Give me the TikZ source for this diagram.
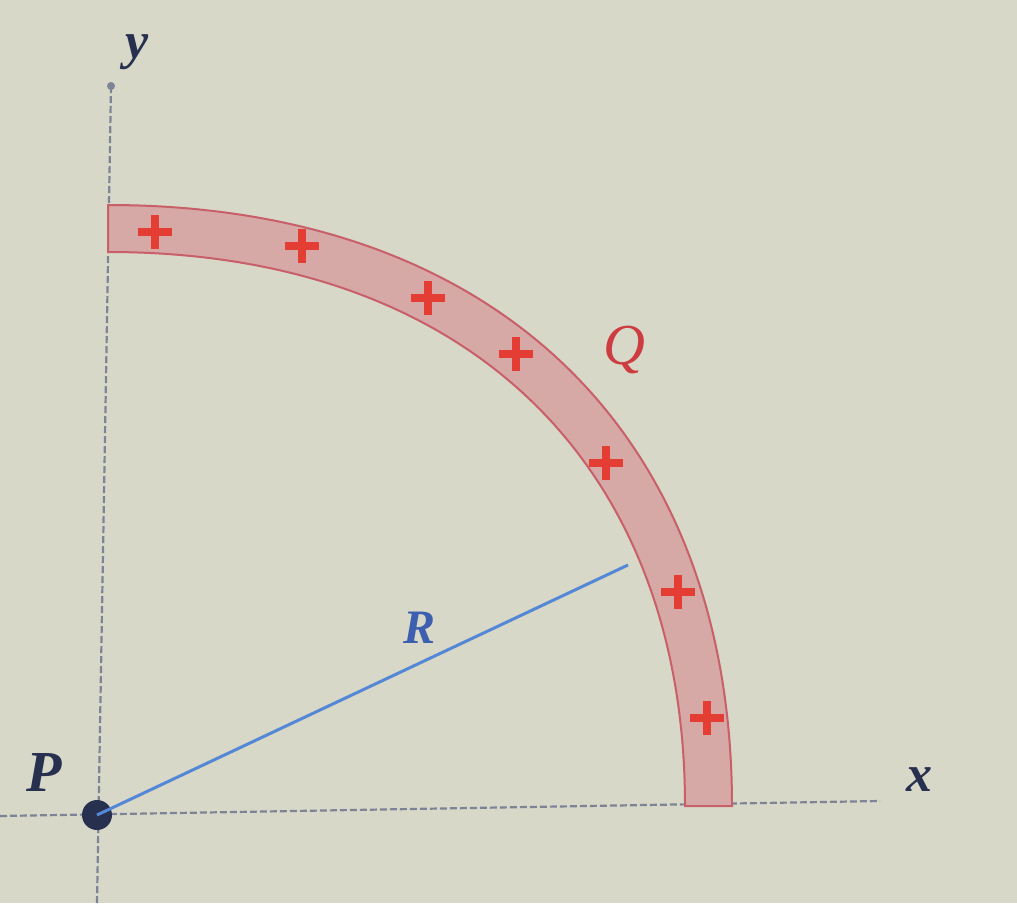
\documentclass[tikz,border=0pt]{standalone}
\usepackage{fontspec}
\setmainfont{Liberation Serif}
\begin{document}
\begin{tikzpicture}[x=1pt,y=-1pt,
  axisline/.style={draw=axisc, line width=2.2, dash pattern=on 7pt off 3pt},
  lbl/.style={font=\fontsize{58}{58}\selectfont\itshape\bfseries, inner sep=0},
  chg/.pic={\draw[plusc, line width=8] (-17,0)--(17,0) (0,-17)--(0,17);}]
\definecolor{bgc}{RGB}{216,216,200}
\definecolor{axisc}{RGB}{125,132,150}
\definecolor{bandfill}{RGB}{214,168,166}
\definecolor{bandedge}{RGB}{200,95,105}
\definecolor{plusc}{RGB}{228,62,52}
\definecolor{rcol}{RGB}{85,135,215}
\definecolor{rlab}{RGB}{60,95,175}
\definecolor{qlab}{RGB}{205,60,65}
\definecolor{navy}{RGB}{40,48,80}
\fill[bgc] (0,0) rectangle (1017,903);
\useasboundingbox (0,0) rectangle (1017,903);
% axes
\coordinate (ybot) at (97,903);
\coordinate (ytop) at (111,86);
\coordinate (xl) at (0,816);
\coordinate (xr) at (880,801);
\draw[axisline] (ybot) -- (ytop);
\fill[axisc] (ytop) circle (4);
\draw[axisline] (xl) -- (xr);
% charged band
\coordinate (otop) at (108,205);
\coordinate (oright) at (732,806);
\coordinate (iright) at (685,806);
\coordinate (itop) at (108,252);
\filldraw[fill=bandfill, draw=bandedge, line width=2]
  (otop) .. controls (495,205) and (732,433) .. (oright)
  -- (iright) .. controls (685,463) and (466,252) .. (itop) -- cycle;
% charges
\foreach \px/\py in {155/232, 302/246, 428/298, 516/354, 606/463, 678/592, 707/718}
  \pic at (\px,\py) {chg};
% radius
\node[circle, fill=navy, minimum size=30, inner sep=0] (P) at (97,815) {};
\coordinate (Rend) at (628,565);
\draw[rcol, line width=3] (P.center) -- (Rend);
% labels
\node[lbl, text=navy] (Plab) at (44,772) {P};
\node[lbl, text=navy, font=\fontsize{52}{52}\selectfont\itshape\bfseries] (ylab) at (137,52) {y};
\node[lbl, text=navy, font=\fontsize{52}{52}\selectfont\itshape\bfseries] (xlab) at (919,780) {x};
\node[lbl, text=qlab, font=\fontsize{58}{58}\selectfont\itshape] (Qlab) at (624,350) {Q};
\node[lbl, text=rlab, font=\fontsize{48}{48}\selectfont\itshape\bfseries] (Rlab) at (420,628) {R};
\end{tikzpicture}
\end{document}
